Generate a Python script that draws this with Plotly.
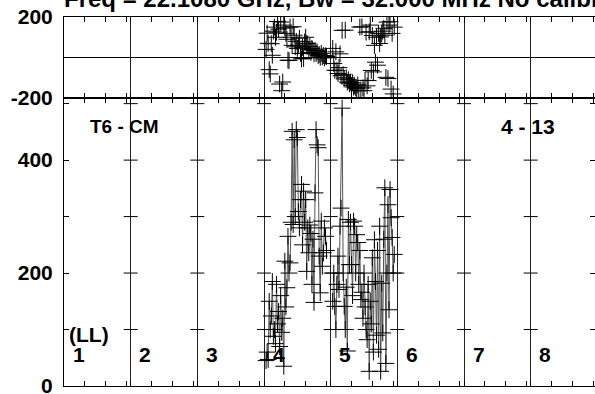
import plotly.graph_objects as go

# ---------------- data ----------------
segment_labels = ["1", "2", "3", "4", "5", "6", "7", "8"]
channels_per_segment = 64
tick_step = 20

seg4_first_chan = 2
seg4_amp = [45, 60, 47, 150, 100, 124, 185, 88, 100, 75, 180, 110, 132, 70, 160,
            95, 120, 35, 221, 140, 174, 265, 200, 218, 290, 451, 286, 436, 300, 454,
            440, 309, 280, 330, 357, 250, 345, 290, 330, 203, 280, 236, 285, 270, 180,
            260, 148, 342, 454, 427, 422, 230, 165, 292, 212, 236, 280, 265, 240]
seg4_phase = [40, 120, 70, -60, -81, 68, 11, 130, 150, 100, 125, 178, 140, -131, 175,
              -164, -121, 160, 145, 119, 90, -13, -15, 150, 100, 60, 152, 110, 53, 80,
              45, 60, 95, 20, -7, 50, -5, 77, 100, 69, 67, 40, 55, 25, 45,
              36, 18, 35, 20, 28, 10, 15, 1, 20, 3, 10, -2, 8, 5]

seg5_first_chan = 2
seg5_amp = [150, 200, 141, 100, 180, 230, 171, 283, 315, 492, 200, 141, 100, 175, 62,
            295, 215, 290, 215, 160, 292, 283, 200, 268, 254, 180, 240, 153, 166, 120,
            200, 140, 100, 82, 180, 26, 150, 110, 227, 60, 259, 185, 90, 240, 65,
            283, 26, 182, 94, 260, 351, 40, 200, 321, 135, 348, 298, 263, 200, 233]
seg5_phase = [45, -30, -63, 28, -64, -79, -50, 18, -90, 134, -85, -106, 135, -100, -122,
              -110, -130, -121, -139, -125, -146, -140, -150, -154, -135, -164, 150, -162, 152, -150,
              -164, -113, 125, -140, -114, 127, 160, -64, 109, -71, 60, -23, 100, -38, 119,
              69, 102, 117, 130, 144, 110, -98, 175, -104, 160, 177, -156, 119, -180, 150]

amp_ticks = [0, 100, 200, 300, 400, 500]
amp_ticklabels = ["0", "", "200", "", "400", ""]
amp_range = [0, 510]
phase_ticks = [-200, 200]
phase_ticklabels = ["-200", "200"]
phase_range = [-200, 200]

title_text = "Freq = 22.1080 GHz, Bw = 32.000 MHz No calibration applied"
source_text = "T6 - CM"
baseline_text = "4 - 13"
pol_text = "(LL)"

# ---------------- figure ----------------
W, H = 595, 394
ML, MR, MT, MB = 64, 0, 17, 8
px_per_chan = (200 / 3) / channels_per_segment
x_max = (W - ML - MR) / px_per_chan
split = 1 - 81 / (H - MT - MB)

FONT = "Liberation Sans, Arial, sans-serif"
fnt = dict(family=FONT, size=21, color="black", weight="bold")
fnt_lab = dict(family=FONT, size=19, color="black", weight="bold")
fnt_title = dict(family=FONT, size=24, color="black", weight="bold")

fig = go.Figure()

segments = [(3, seg4_first_chan, seg4_amp, seg4_phase),
            (4, seg5_first_chan, seg5_amp, seg5_phase)]
for seg_idx, first, amp, ph in segments:
    xs = [seg_idx * channels_per_segment + first + i for i in range(len(amp))]
    fig.add_trace(go.Scatter(
        x=xs, y=amp, mode="lines+markers", xaxis="x", yaxis="y",
        line=dict(color="#555555", width=1),
        marker=dict(symbol="cross-thin", size=12, line=dict(color="black", width=1)),
        showlegend=False, hoverinfo="skip"))
    fig.add_trace(go.Scatter(
        x=xs, y=ph, mode="markers", xaxis="x2", yaxis="y2",
        marker=dict(symbol="cross-thin", size=12, line=dict(color="black", width=1)),
        showlegend=False, hoverinfo="skip"))

# tick crosses on segment dividers (bottom panel)
n_seg = len(segment_labels)
div_x, div_y = [], []
for k in range(1, n_seg + 1):
    for t in amp_ticks[1:]:
        div_x.append(k * channels_per_segment)
        div_y.append(t)
fig.add_trace(go.Scatter(
    x=div_x, y=div_y, mode="markers", xaxis="x", yaxis="y",
    marker=dict(symbol="line-ew", size=10, line=dict(color="black", width=1)),
    showlegend=False, hoverinfo="skip", cliponaxis=False))

major = [k * channels_per_segment for k in range(n_seg + 1)]
minor = [k * channels_per_segment + j for k in range(n_seg)
         for j in range(tick_step, channels_per_segment, tick_step)]

xcommon = dict(range=[0, x_max], tickmode="array", tickvals=major, showticklabels=False,
               ticks="inside", ticklen=5, tickcolor="black", tickwidth=1,
               showgrid=True, gridcolor="#222222", gridwidth=1,
               showline=True, linecolor="black", linewidth=1, mirror="ticks",
               zeroline=False, automargin=False,
               minor=dict(tickmode="array", tickvals=minor, ticks="inside", ticklen=5,
                          tickcolor="black", tickwidth=1, showgrid=False))

fig.update_layout(
    template="none",
    width=W, height=H, margin=dict(l=ML, r=MR, t=MT, b=MB, autoexpand=False),
    paper_bgcolor="white", plot_bgcolor="white", showlegend=False,
    xaxis=dict(anchor="y", domain=[0, 1], **xcommon),
    xaxis2=dict(anchor="y2", domain=[0, 1], matches="x", **xcommon),
    yaxis=dict(domain=[0, split], range=amp_range, tickmode="array", tickvals=amp_ticks,
               ticktext=amp_ticklabels, ticks="inside", ticklen=5, tickcolor="black",
               showgrid=False, zeroline=False, showline=True, linecolor="black",
               linewidth=1, mirror="ticks", tickfont=fnt, ticklabelstandoff=6,
               automargin=False, ticklabeloverflow="allow"),
    yaxis2=dict(domain=[split, 1], range=phase_range, tickmode="array", tickvals=phase_ticks,
                ticktext=phase_ticklabels, ticks="inside", ticklen=5, tickcolor="black",
                showgrid=False, zeroline=True, zerolinecolor="black", zerolinewidth=1,
                showline=True, linecolor="black", linewidth=1, mirror="ticks",
                tickfont=fnt, ticklabelstandoff=6, automargin=False,
                ticklabeloverflow="allow"),
)

ann = []
for k, lab in enumerate(segment_labels):
    ann.append(dict(x=k * channels_per_segment + 14, y=55, xref="x", yref="y", text=lab,
                    showarrow=False, font=fnt, xanchor="center", yanchor="middle"))
ann.append(dict(x=3, y=91, xref="x", yref="y", text=pol_text, showarrow=False,
                font=fnt, xanchor="left", yanchor="middle"))
ann.append(dict(x=23, y=459, xref="x", yref="y", text=source_text, showarrow=False,
                font=fnt_lab, xanchor="left", yanchor="middle"))
ann.append(dict(x=418, y=459, xref="x", yref="y", text=baseline_text, showarrow=False,
                font=fnt, xanchor="left", yanchor="middle"))
ann.append(dict(x=0, y=1, xref="paper", yref="paper", text=title_text, showarrow=False,
                font=fnt_title, xanchor="left", yanchor="bottom", yshift=3, xshift=-2))
fig.update_layout(annotations=ann)

fig.write_html("out.html", config={"displayModeBar": False},
               post_script="document.body.style.margin='0';document.body.style.overflow='hidden';")
